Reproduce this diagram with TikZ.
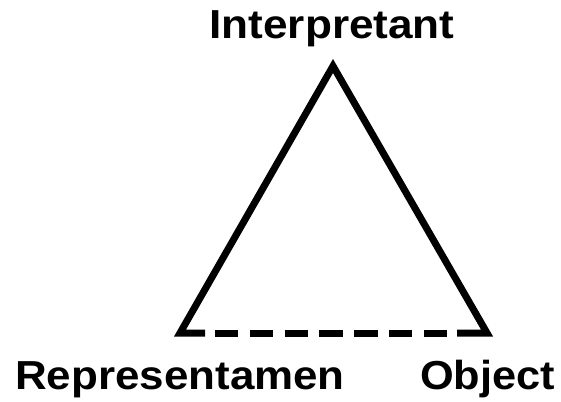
\documentclass[tikz,border=0pt]{standalone}
\usepackage{fontspec}
\setmainfont{Liberation Sans}
\begin{document}
\begin{tikzpicture}[x=1pt,y=-1pt,
  lbl/.style={inner sep=0pt, anchor=base, font=\fontsize{40.5}{44}\selectfont\bfseries},
  side/.style={line width=7pt, line join=miter, line cap=butt},
  dashside/.style={line width=7pt, line cap=butt, dash pattern=on 23.3pt off 11.5pt}]
\useasboundingbox (0,0) rectangle (561,401);
\coordinate (apex) at (333,66);
\coordinate (bl) at (180,333);
\coordinate (br) at (487,333);
\coordinate (sl) at (205,333);
\coordinate (sr) at (457,333);
\coordinate (dl) at (215,333);
\coordinate (dr) at (447.3,333);
\draw[side] (sl) -- (bl) -- (apex) -- (br) -- (sr);
\draw[dashside] (dl) -- (dr);
\node[lbl] (interp) at (332,39) {\scalebox{1.09}[1]{Interpretant}};
\node[lbl] (repr) at (180,389) {\scalebox{1.085}[1]{Representamen}};
\node[lbl] (obj) at (487.5,389) {\scalebox{1.07}[1]{Object}};
\end{tikzpicture}
\end{document}
